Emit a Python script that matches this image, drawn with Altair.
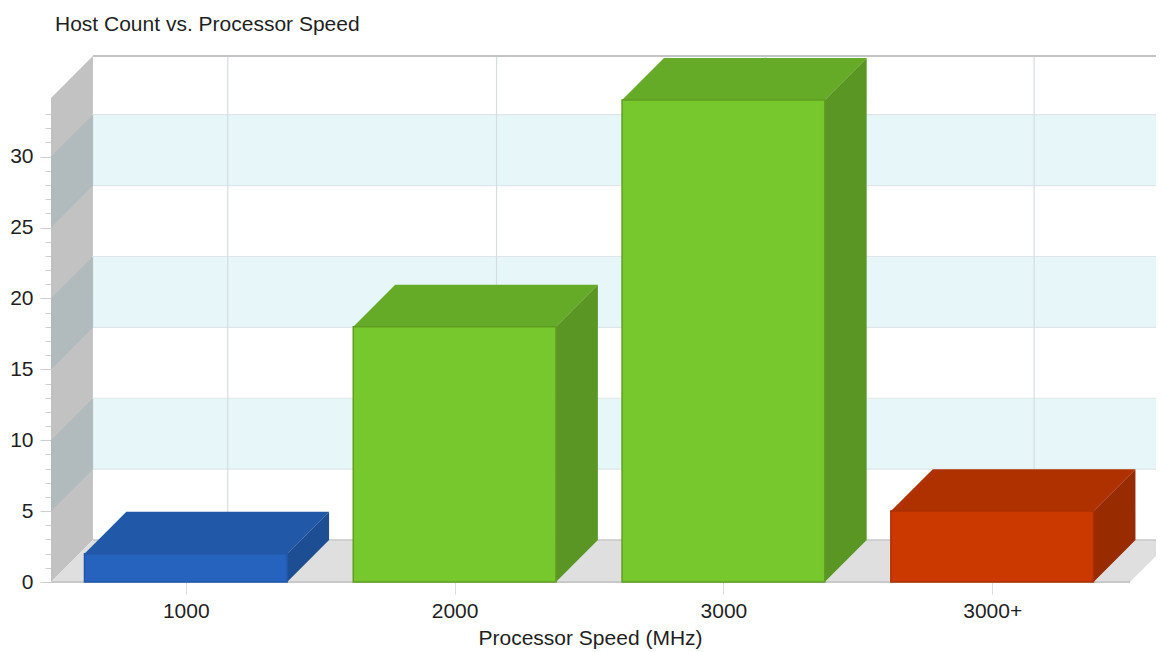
import altair as alt
import pandas as pd

# Values
categories = ["1000", "2000", "3000", "3000+"]
host_counts = [2, 18, 34, 5]
front_colors = ["#2563bf", "#76c82d", "#76c82d", "#cb3800"]
top_colors = ["#2158a8", "#66ab28", "#66ab28", "#b03100"]
side_colors = ["#1d4d93", "#5a9623", "#5a9623", "#992b00"]
edge_colors = ["#2356a8", "#5f9e22", "#5f9e22", "#ad3000"]
band_starts = [5, 15, 25]
band_size = 5

# Chart geometry in data units
half_width = 0.377
depth_x = 0.156
depth_y = 2.96
x_min = -0.5015
x_max = 3.6094
floor_right = 3.5127
wall_top = 34.14
y_max = 37.1
FONT = "Liberation Sans"
TEXT = "#1f1f1f"

xs = alt.Scale(domain=[x_min, x_max], nice=False, zero=False)
ys = alt.Scale(domain=[0, y_max], nice=False, zero=False)
X = alt.X("x:Q", scale=xs, title="Processor Speed (MHz)",
          axis=alt.Axis(values=list(range(len(categories))),
                        labelExpr="[" + ",".join(f"'{c}'" for c in categories) + "][datum.value]",
                        domain=False, grid=False, tickSize=12, tickColor="#dcdcdc",
                        labelPadding=6, labelFontSize=21, labelColor=TEXT, labelFont=FONT,
                        labelOverlap=False, labelFlush=False, labelBound=False,
                        titleFont=FONT, titleFontSize=21, titleFontWeight="normal", titleColor=TEXT,
                        titleX=539, titleY=45, titleAnchor="middle", titleAlign="center"))
Y = alt.Y("y:Q", scale=ys, title=None,
          axis=alt.Axis(values=list(range(0, 34)),
                        labelExpr="datum.value % 5 == 0 ? datum.label : ''",
                        domain=False, grid=False, tickColor="#cfcfcf",
                        tickSize={"condition": {"test": "datum.value % 5 == 0", "value": 11}, "value": 6},
                        labelPadding=7, labelFontSize=21, labelColor=TEXT, labelFont=FONT,
                        labelOverlap=False, labelFlush=False, labelBound=False))

def parallelogram(bar, left, right, low, high, color):
    """Top-like face as a vertical area over four x stops."""
    return [
        {"bar": bar, "x": left, "y": low, "y2": low, "c": color},
        {"bar": bar, "x": left + depth_x, "y": low, "y2": high, "c": color},
        {"bar": bar, "x": right, "y": low, "y2": high, "c": color},
        {"bar": bar, "x": right + depth_x, "y": high, "y2": high, "c": color},
    ]

# Room: the walls and floor
wall = pd.DataFrame({"x": [x_min, x_min + depth_x], "y": [0, depth_y],
                     "y2": [wall_top, wall_top + depth_y]})
wall_layer = alt.Chart(wall).mark_area(color="#c2c2c2").encode(x=X, y=Y, y2="y2:Q")

floor = pd.DataFrame(parallelogram(0, x_min, floor_right, 0, depth_y, "#dfdfdf"))
floor_layer = alt.Chart(floor).mark_area(clip=True).encode(
    x=X, y=Y, y2="y2:Q", color=alt.Color("c:N", scale=None))

bands = pd.DataFrame({"x": [x_min + depth_x] * len(band_starts), "x2": [x_max + 0.02] * len(band_starts),
                      "y": [b + depth_y for b in band_starts],
                      "y2": [b + band_size + depth_y for b in band_starts]})
band_layer = alt.Chart(bands).mark_rect(color="#e7f6f8", stroke="#dde7e9", strokeWidth=1.2, clip=True).encode(
    x=X, x2="x2:Q", y=Y, y2="y2:Q")

wall_band_rows = []
for b in band_starts:
    wall_band_rows += [{"band": b, "x": x_min, "y": b, "y2": b + band_size},
                       {"band": b, "x": x_min + depth_x, "y": b + depth_y, "y2": b + band_size + depth_y}]
wall_band_layer = alt.Chart(pd.DataFrame(wall_band_rows)).mark_area(color="#b1bbbd").encode(
    x=X, y=Y, y2="y2:Q", detail="band:N")

grid = pd.DataFrame({"x": [i + depth_x for i in range(len(categories))],
                     "y": [depth_y] * len(categories), "y2": [y_max] * len(categories)})
grid_layer = alt.Chart(grid).mark_rule(color="#d6dde0", strokeWidth=1.2).encode(x=X, y=Y, y2="y2:Q")

top_line = pd.DataFrame({"x": [x_min + depth_x], "x2": [x_max], "y": [y_max]})
top_layer = alt.Chart(top_line).mark_rule(color="#c4c4c4", strokeWidth=2).encode(x=X, x2="x2:Q", y=Y)

floor_back = pd.DataFrame({"x": [x_min + depth_x], "x2": [x_max], "y": [depth_y]})
floor_back_layer = alt.Chart(floor_back).mark_rule(color="#c8c8c8", strokeWidth=1.5).encode(x=X, x2="x2:Q", y=Y)

floor_front = pd.DataFrame({"x": [x_min], "x2": [floor_right], "y": [0]})
floor_front_layer = alt.Chart(floor_front).mark_rule(color="#c8c8c8", strokeWidth=2).encode(x=X, x2="x2:Q", y=Y)

# Bars
front_rows, top_rows, side_rows = [], [], []
for i, v in enumerate(host_counts):
    l, r = i - half_width, i + half_width
    front_rows.append({"x": l, "x2": r, "y": 0, "y2": v, "c": front_colors[i], "e": edge_colors[i]})
    top_rows += parallelogram(i, l, r, v, v + depth_y, top_colors[i])
    side_rows += [{"bar": i, "x": r, "y": 0, "y2": v, "c": side_colors[i]},
                  {"bar": i, "x": r + depth_x, "y": depth_y, "y2": v + depth_y, "c": side_colors[i]}]

top_face = alt.Chart(pd.DataFrame(top_rows)).mark_area().encode(
    x=X, y=Y, y2="y2:Q", color=alt.Color("c:N", scale=None), detail="bar:N")
side_face = alt.Chart(pd.DataFrame(side_rows)).mark_area().encode(
    x=X, y=Y, y2="y2:Q", color=alt.Color("c:N", scale=None), detail="bar:N")
front_face = alt.Chart(pd.DataFrame(front_rows)).mark_rect(strokeWidth=1.5).encode(
    x=X, x2="x2:Q", y=Y, y2="y2:Q",
    color=alt.Color("c:N", scale=None), stroke=alt.Stroke("e:N", scale=None))

chart = alt.layer(
    wall_layer, band_layer, wall_band_layer, floor_layer, grid_layer, top_layer,
    floor_back_layer, floor_front_layer, top_face, side_face, front_face,
).properties(
    width=1105, height=526,
    padding={"left": 43, "top": 48, "right": 0, "bottom": 68},
    autosize=alt.AutoSizeParams(type="none"),
    title=alt.TitleParams("Host Count vs. Processor Speed", anchor="start", frame="group", dx=4, offset=20,
                          font=FONT, fontSize=21, fontWeight="normal", color=TEXT),
).configure_view(stroke=None)

chart.save("out.html", embed_options={"renderer": "svg", "actions": False})
